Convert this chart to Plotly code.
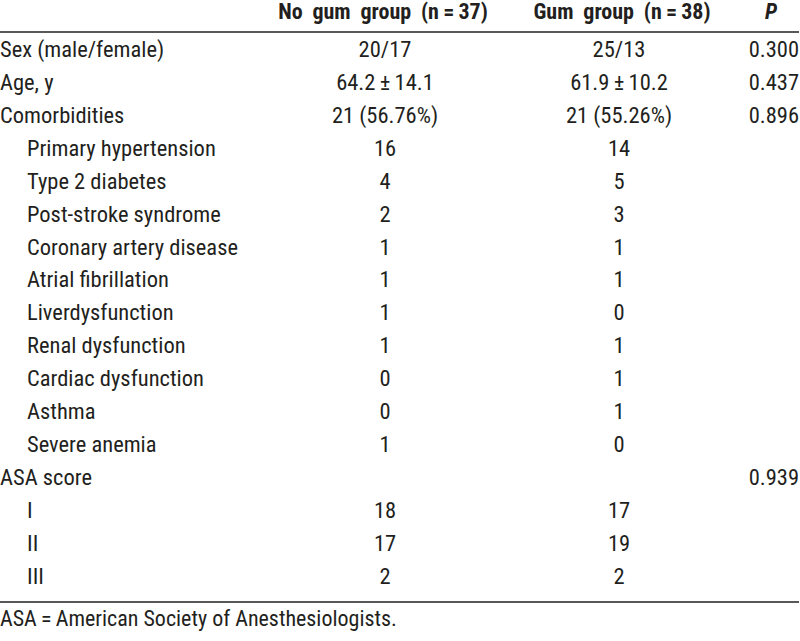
import plotly.graph_objects as go

headers = ["", "No\u2002gum\u2002group\u2002(n\u2009=\u200937)", "Gum\u2002group\u2002(n\u2009=\u200938)", "P"]
row_labels = ["Sex (male/female)", "Age, y", "Comorbidities", "Primary hypertension",
              "Type 2 diabetes", "Post-stroke syndrome", "Coronary artery disease",
              "Atrial fibrillation", "Liverdysfunction", "Renal dysfunction",
              "Cardiac dysfunction", "Asthma", "Severe anemia", "ASA score", "I", "II", "III"]
indented = [False, False, False, True, True, True, True, True, True, True, True, True, True,
            False, True, True, True]
no_gum = ["20/17", "64.2\u2009±\u200914.1", "21 (56.76%)", "16", "4", "2", "1", "1", "1", "1", "0", "0", "1",
          "", "18", "17", "2"]
gum = ["25/13", "61.9\u2009±\u200910.2", "21 (55.26%)", "14", "5", "3", "1", "1", "0", "1", "1", "1", "0",
       "", "17", "19", "2"]
p_vals = ["0.300", "0.437", "0.896", "", "", "", "", "", "", "", "", "", "", "0.939", "", "", ""]
footnote = "ASA\u2009=\u2009American Society of Anesthesiologists."

FONT = "Liberation Sans Narrow, Arial Narrow, Roboto Condensed, sans-serif"
FS = 22.5
COLOR = "#231f20"

row_y0 = 51.5
row_dy = 32.9
ys = [row_y0 + i * row_dy for i in range(len(row_labels))]

fig = go.Figure()

# header
fig.add_trace(go.Scatter(x=[383, 622], y=[13, 13], mode="text", text=headers[1:3],
                         textposition="middle center",
                         textfont=dict(family=FONT, size=22, color=COLOR, weight="bold"),
                         hoverinfo="skip", showlegend=False))
fig.add_trace(go.Scatter(x=[771], y=[13], mode="text", text=["<i>P</i>"],
                         textposition="middle center",
                         textfont=dict(family=FONT, size=22, color=COLOR, weight="bold"),
                         hoverinfo="skip", showlegend=False))

# row labels
lx = [27 if ind else 0 for ind in indented]
fig.add_trace(go.Scatter(x=lx, y=ys, mode="text", text=row_labels, textposition="middle right",
                         textfont=dict(family=FONT, size=FS, color=COLOR),
                         hoverinfo="skip", showlegend=False))
fig.add_trace(go.Scatter(x=[385] * len(ys), y=ys, mode="text", text=no_gum,
                         textposition="middle center",
                         textfont=dict(family=FONT, size=FS, color=COLOR),
                         hoverinfo="skip", showlegend=False))
fig.add_trace(go.Scatter(x=[619] * len(ys), y=ys, mode="text", text=gum,
                         textposition="middle center",
                         textfont=dict(family=FONT, size=FS, color=COLOR),
                         hoverinfo="skip", showlegend=False))
fig.add_trace(go.Scatter(x=[799] * len(ys), y=ys, mode="text", text=p_vals,
                         textposition="middle left",
                         textfont=dict(family=FONT, size=FS, color=COLOR),
                         hoverinfo="skip", showlegend=False))
fig.add_trace(go.Scatter(x=[0], y=[620], mode="text", text=[footnote],
                         textposition="middle right",
                         textfont=dict(family=FONT, size=22, color=COLOR),
                         hoverinfo="skip", showlegend=False))

for yl in [32, 602]:
    fig.add_shape(type="line", x0=0, x1=799, y0=yl, y1=yl, xref="x", yref="y",
                  line=dict(color=COLOR, width=1.6))

fig.update_layout(width=800, height=641, margin=dict(l=0, r=0, t=0, b=0),
                  plot_bgcolor="white", paper_bgcolor="white")
fig.update_xaxes(range=[0, 800], visible=False, fixedrange=True)
fig.update_yaxes(range=[641, 0], visible=False, fixedrange=True)

fig.write_html("out.html", config={"displayModeBar": False},
               post_script="document.body.style.margin='0';document.body.style.overflow='hidden';")
